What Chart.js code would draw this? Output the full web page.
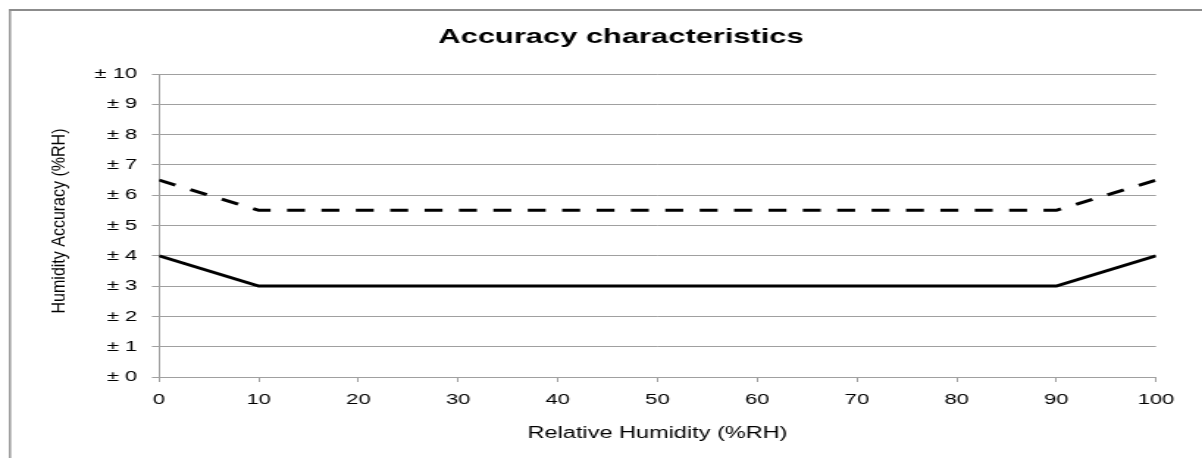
<!DOCTYPE html>
<html>
<head>
<meta charset="utf-8">
<script src="https://cdn.jsdelivr.net/npm/chart.js@4/dist/chart.umd.min.js"></script>
<style>
body { margin: 0; overflow: hidden; background: #fff; }
/* the reference is stretched sideways, so the canvas is too */
#wrap { position: absolute; left: 0; top: 0; width: 818px; height: 458px; transform: scaleX(1.46944); transform-origin: 0 0; }
</style>
</head>
<body>
<div id="wrap"><canvas id="chart"></canvas></div>
<script>
var rhValues = [0, 10, 90, 100];
var typicalAccuracy = [4, 3, 3, 4];
var maxAccuracy = [6.5, 5.5, 5.5, 6.5];

var chartTitle = "Accuracy characteristics";
var xTitle = "Relative Humidity (%RH)";
var yTitle = "Humidity Accuracy (%RH)";

var stretch = 1202 / 818;
var fontFamily = '"Liberation Sans", Arial, sans-serif';

var toPoints = (ys) => rhValues.map((x, i) => ({ x: x, y: ys[i] }));

// grey frame round the chart, white background
var framePlugin = {
	id: "frame",
	beforeDraw: (chart) => {
		var ctx = chart.ctx;
		ctx.save();
		ctx.fillStyle = "#fff";
		ctx.fillRect(0, 0, chart.width, chart.height);
		ctx.strokeStyle = "#8c8c8c";
		ctx.lineWidth = 2;
		ctx.beginPath();
		ctx.moveTo(6.1, 10);
		ctx.lineTo(chart.width, 10);
		ctx.stroke();
		ctx.lineWidth = 2 / stretch;
		ctx.beginPath();
		ctx.moveTo(10 / stretch, 9);
		ctx.lineTo(10 / stretch, chart.height);
		ctx.stroke();
		ctx.restore();
	}
};

// title sits a bit right of centre, and the y title is not stretched in the reference
var textPlugin = {
	id: "texts",
	afterDraw: (chart) => {
		var ctx = chart.ctx;
		ctx.save();
		ctx.fillStyle = "#000";
		ctx.textAlign = "center";
		ctx.textBaseline = "middle";
		ctx.font = "bold 21px " + fontFamily;
		ctx.fillText(chartTitle, 621 / stretch, 37);

		ctx.translate(60 / stretch, 221);
		ctx.scale(0.79, 1);
		ctx.rotate(-Math.PI / 2);
		ctx.font = "16px " + fontFamily;
		ctx.fillText(yTitle, 0, 0);
		ctx.restore();
	}
};

var ctx = document.getElementById("chart").getContext("2d");
var chart = new Chart(ctx, {
	type: "line",
	data: {
		datasets: [
			{
				label: "Typical",
				data: toPoints(typicalAccuracy),
				borderColor: "#000",
				borderWidth: 3,
				pointRadius: 0,
				fill: false
			},
			{
				label: "Maximum",
				data: toPoints(maxAccuracy),
				borderColor: "#000",
				borderWidth: 3,
				borderDash: [12.2, 11.2],
				pointRadius: 0,
				fill: false
			}
		]
	},
	options: {
		responsive: true,
		maintainAspectRatio: false,
		animation: false,
		events: [],
		layout: { padding: { left: 0, right: 31.3, top: 74, bottom: 11 } },
		plugins: {
			legend: { display: false },
			tooltip: { enabled: false },
			title: { display: false }
		},
		scales: {
			x: {
				type: "linear",
				min: 0,
				max: 100,
				ticks: {
					stepSize: 10,
					color: "#000",
					font: { family: fontFamily, size: 15 },
					padding: 9,
					maxRotation: 0
				},
				grid: { drawOnChartArea: false, drawTicks: true, tickLength: 5, color: "#a0a0a0" },
				border: { color: "#a0a0a0", width: 1 },
				title: {
					display: true,
					text: xTitle,
					color: "#000",
					font: { family: fontFamily, size: 16 },
					padding: { top: 4, bottom: 4 }
				},
				afterFit: (s) => { s.height = 70; }
			},
			y: {
				min: 0,
				max: 10,
				ticks: {
					stepSize: 1,
					color: "#000",
					font: { family: fontFamily, size: 15 },
					padding: 10,
					callback: (v) => "± " + v
				},
				grid: { color: "#a0a0a0", tickLength: 4.8 },
				border: { color: "#a0a0a0", width: 1 },
				afterFit: (s) => { s.width = 108.2; }
			}
		}
	},
	plugins: [framePlugin, textPlugin]
});
</script>
</body>
</html>
